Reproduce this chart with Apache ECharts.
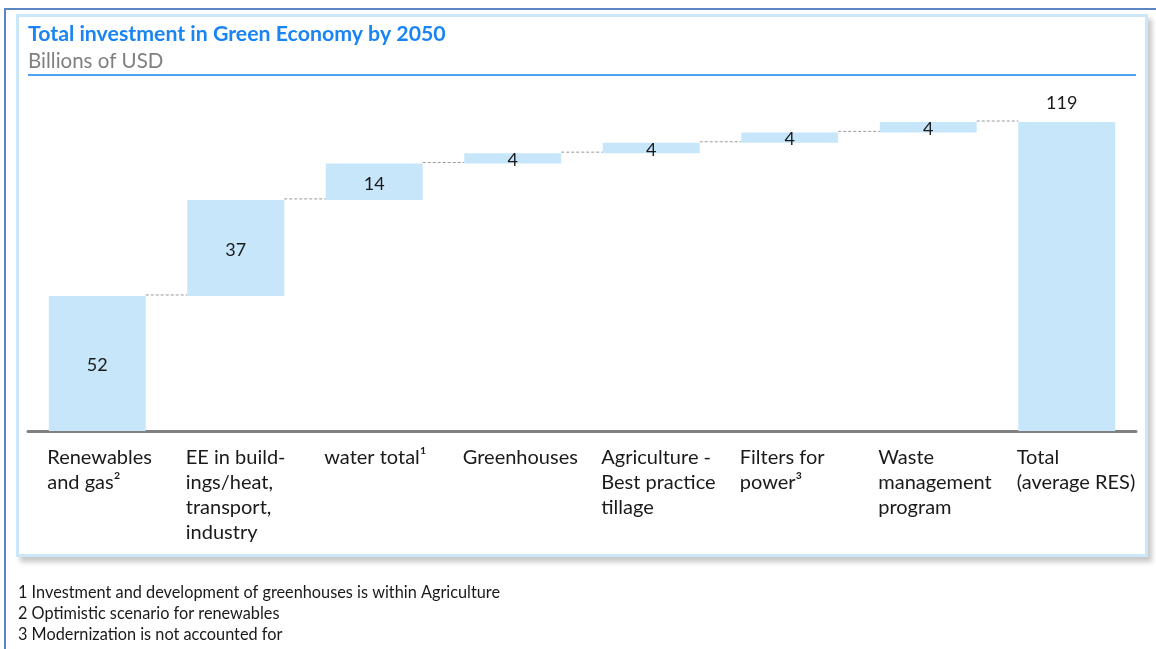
<!DOCTYPE html>
<html>

<head>
	<meta charset="UTF-8" />
	<title>Total investment in Green Economy by 2050</title>
	<style type="text/css">
		* {
			margin: 0;
			padding: 0;
		}

		body {
			width: 1156px;
			height: 649px;
			background: #fff;
			position: relative;
			overflow: hidden;
		}

		/* outer page frame */
		#page {
			position: absolute;
			left: 4px;
			top: 8px;
			width: 1160px;
			height: 660px;
			border-left: 2px solid #5b86c2;
			border-top: 2px solid #5b86c2;
		}

		/* light blue chart box with shadow */
		#box {
			position: absolute;
			left: 16px;
			top: 14px;
			width: 1126px;
			height: 537px;
			border: 3px solid #cbe7f9;
			box-shadow: 4px 5px 5px rgba(0, 0, 0, 0.22);
			background: #fff;
		}

		#main {
			position: absolute;
			left: 0;
			top: 0;
			width: 1156px;
			height: 649px;
		}
	</style>
</head>

<body>
	<div id="page"></div>
	<div id="box"></div>
	<div id="main"></div>
</body>
<script src="https://cdn.jsdelivr.net/npm/echarts@6/dist/echarts.min.js"></script>
<script type="text/javascript">
	// data
	var categories = [
		'Renewables\nand gas²',
		'EE in build-\nings/heat,\ntransport,\nindustry',
		'water total¹',
		'Greenhouses',
		'Agriculture -\nBest practice\ntillage',
		'Filters for\npower³',
		'Waste\nmanagement\nprogram',
		'Total\n(average RES)'
	]
	var values = [52, 37, 14, 4, 4, 4, 4, 119]
	var isTotal = [false, false, false, false, false, false, false, true]
	var footnotes = [
		'1 Investment and development of greenhouses is within Agriculture',
		'2 Optimistic scenario for renewables',
		'3 Modernization is not accounted for'
	]

	// invisible base of each step = running sum of the previous steps
	var base = []
	var tops = []
	var run = 0
	values.forEach(function (v, i) {
		if (isTotal[i]) {
			base.push(0)
			tops.push(v)
		} else {
			base.push(run)
			run += v
			tops.push(run)
		}
	})

	// connector from each bar top to the next bar
	var links = []
	for (var i = 0; i < values.length - 1; i++) {
		links.push([i, tops[i]])
	}

	var FONT = 'Lato'
	var BAR_RATIO = 0.7

	var myChart = echarts.init(document.getElementById('main'))

	var option = {
		backgroundColor: 'transparent',
		animation: false,
		textStyle: { fontFamily: FONT },
		title: [{
			text: 'Total investment in Green Economy by 2050',
			left: 28,
			top: 24,
			padding: 0,
			textStyle: { color: '#1a84f4', fontSize: 21.3, fontWeight: 'bold', fontFamily: FONT }
		}, {
			text: 'Billions of USD',
			left: 28,
			top: 51,
			padding: 0,
			textStyle: { color: '#808080', fontSize: 20.5, fontWeight: 'normal', fontFamily: FONT }
		}, {
			text: footnotes.join('\n'),
			left: 18,
			top: 582,
			padding: 0,
			textStyle: { color: '#1a1a1a', fontSize: 16.3, fontWeight: 'normal', lineHeight: 21, fontFamily: FONT }
		}],
		graphic: [{
			type: 'line',
			shape: { x1: 28, y1: 75, x2: 1136, y2: 75 },
			style: { stroke: '#4fa3f5', lineWidth: 2 }
		}],
		grid: {
			left: 28,
			right: 20,
			top: 122,
			bottom: 218
		},
		xAxis: {
			type: 'category',
			data: categories,
			axisLine: { lineStyle: { color: '#808080', width: 3 } },
			axisTick: { show: false },
			axisLabel: {
				interval: 0,
				align: 'left',
				verticalAlign: 'top',
				padding: [0, 0, 0, -50],
				margin: 14,
				color: '#1a1a1a',
				fontSize: 20,
				lineHeight: 25,
				fontFamily: FONT
			}
		},
		yAxis: {
			type: 'value',
			min: 0,
			max: 119,
			show: false,
			splitLine: { show: false }
		},
		series: [{
			type: 'bar',
			stack: 'wf',
			barWidth: (BAR_RATIO * 100) + '%',
			itemStyle: { color: 'transparent' },
			emphasis: { disabled: true },
			data: base
		}, {
			type: 'bar',
			stack: 'wf',
			barWidth: (BAR_RATIO * 100) + '%',
			itemStyle: { color: '#c7e6fa' },
			emphasis: { disabled: true },
			label: {
				show: true,
				position: 'inside',
				offset: [0, 2],
				color: '#1a1a1a',
				fontSize: 18,
				fontFamily: FONT
			},
			data: values.map(function (v, i) {
				if (isTotal[i]) {
					return { value: v, label: { position: 'top', distance: 10, offset: [-5, 0] } }
				}
				return v
			})
		}, {
			type: 'custom',
			silent: true,
			z: 1,
			renderItem: function (params, api) {
				var p = api.coord([api.value(0), api.value(1)])
				var band = api.size([1, 0])[0]
				var half = band * BAR_RATIO / 2
				return {
					type: 'line',
					shape: { x1: p[0] + half, y1: p[1] - 1, x2: p[0] + band - half, y2: p[1] - 1 },
					style: { stroke: '#9a9a9a', lineWidth: 1, lineDash: [3, 2] }
				}
			},
			data: links
		}]
	}
	myChart.setOption(option)
</script>

</html>
